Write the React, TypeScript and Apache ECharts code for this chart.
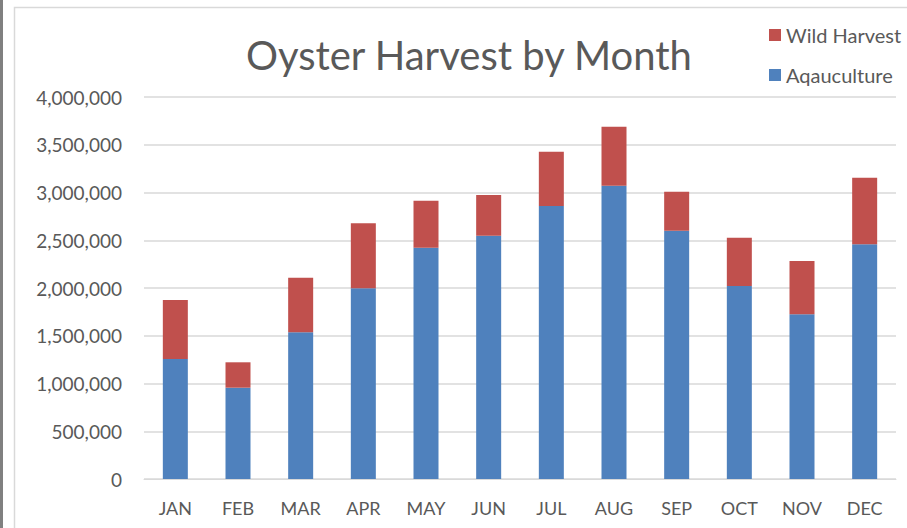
import React, { useEffect, useRef } from "react";
import * as echarts from "echarts";

const months = ["JAN", "FEB", "MAR", "APR", "MAY", "JUN", "JUL", "AUG", "SEP", "OCT", "NOV", "DEC"];
const aquaculture = [1257000, 956000, 1536000, 1997000, 2422000, 2548000, 2859000, 3071000, 2600000, 2021000, 1724000, 2457000];
const wildHarvest = [617000, 266000, 572000, 680000, 492000, 426000, 568000, 618000, 409000, 506000, 559000, 698000];
const yTicks = { min: 0, max: 4000000, interval: 500000 };

const FONT = "Lato";
const TEXT = "#595959";
const GRID = "#d9d9d9";

export default function App() {
  const ref = useRef<HTMLDivElement>(null);

  useEffect(() => {
    document.body.style.margin = "0";
    const chart = echarts.init(ref.current!, null, { renderer: "svg" });
    chart.setOption({
      animation: false,
      backgroundColor: "#ffffff",
      textStyle: { fontFamily: FONT },
      title: {
        text: "Oyster Harvest by Month",
        left: 241,
        top: 30,
        textStyle: { fontFamily: FONT, fontSize: 40, fontWeight: "normal", color: TEXT },
      },
      legend: {
        orient: "vertical",
        left: 769,
        top: 25,
        padding: 0,
        itemWidth: 12,
        itemHeight: 12,
        itemGap: 20,
        icon: "rect",
        data: ["Wild Harvest", "Aqauculture"],
        textStyle: { fontFamily: FONT, fontSize: 20, color: TEXT, lineHeight: 20 },
      },
      grid: { left: 144, right: 11, top: 97, bottom: 49, containLabel: false },
      xAxis: {
        type: "category",
        data: months,
        axisLine: { lineStyle: { color: GRID, width: 1 } },
        axisTick: { show: false },
        axisLabel: { color: TEXT, fontFamily: FONT, fontSize: 18, margin: 20 },
      },
      yAxis: {
        type: "value",
        min: yTicks.min,
        max: yTicks.max,
        interval: yTicks.interval,
        axisLine: { show: false },
        axisTick: { show: false },
        splitLine: { lineStyle: { color: GRID, width: 1.5 } },
        axisLabel: {
          color: TEXT,
          fontFamily: FONT,
          fontSize: 19,
          margin: 22,
          formatter: (v: number) => v.toLocaleString("en-US"),
        },
      },
      series: [
        {
          name: "Aqauculture",
          type: "bar",
          stack: "total",
          barWidth: 25,
          data: aquaculture,
          itemStyle: { color: "#4f81bd" },
        },
        {
          name: "Wild Harvest",
          type: "bar",
          stack: "total",
          barWidth: 25,
          data: wildHarvest,
          itemStyle: { color: "#c0504d" },
        },
      ],
      graphic: [
        { type: "rect", left: 0, top: 0, shape: { width: 3, height: 528 }, style: { fill: "#808080" }, z: 10 },
        {
          type: "rect",
          shape: { x: 14.5, y: 7.5, width: 900, height: 530 },
          style: { fill: "none", stroke: "#d9d9d9", lineWidth: 1.5 },
          z: -1,
        },
      ],
    });
    return () => chart.dispose();
  }, []);

  return <div ref={ref} style={{ width: 907, height: 528 }} />;
}
